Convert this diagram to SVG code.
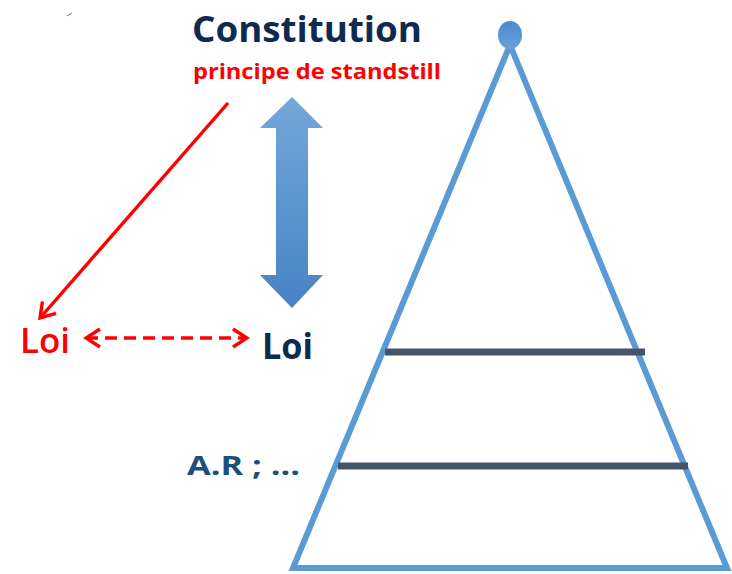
<svg xmlns="http://www.w3.org/2000/svg" width="732" height="574" viewBox="0 0 732 574">
<defs>
<linearGradient id="ga" x1="0" y1="0" x2="0" y2="1"><stop offset="0" stop-color="#74a7db"/><stop offset="1" stop-color="#4683c4"/></linearGradient>
<linearGradient id="gc" x1="0" y1="0" x2="0" y2="1"><stop offset="0" stop-color="#4b8ad0"/><stop offset="1" stop-color="#6aa0d8"/></linearGradient>
<marker id="rh" viewBox="0 0 20 22" refX="17" refY="11" markerWidth="20" markerHeight="22" markerUnits="userSpaceOnUse" orient="auto-start-reverse"><path d="M3,2 L17,11 L3,20" fill="none" stroke="#ff0000" stroke-width="3.4"/></marker>
</defs>
<style>
.t{font-family:"Open Sans","Liberation Sans",sans-serif;font-weight:bold}
.bar{stroke:#44546a;stroke-width:7;fill:none}
</style>
<rect width="732" height="574" fill="#fff"/>
<line x1="67" y1="16" x2="72" y2="13" stroke="#5a7fa8" stroke-width="1"/>
<g id="pyramid">
<polygon points="510,45 293,568 727,568" fill="none" stroke="#5b9bd5" stroke-width="6" stroke-linejoin="miter"/>
<ellipse cx="510" cy="35" rx="12" ry="14" fill="url(#gc)"/>
<line class="bar" x1="385" y1="352" x2="645" y2="352"/>
<line class="bar" x1="338" y1="466" x2="688" y2="466"/>
</g>
<g id="constitution">
<text class="t" x="192" y="42" font-size="36" fill="#0f2a4e" textLength="230" lengthAdjust="spacingAndGlyphs">Constitution</text>
<text class="t" x="193" y="79" font-size="22" fill="#ff0000" textLength="248" lengthAdjust="spacingAndGlyphs">principe de standstill</text>
</g>
<g id="loi-red"><text x="20" y="353" font-family="Open Sans, Liberation Sans, sans-serif" font-weight="600" font-size="35" fill="#ff0000" textLength="50" lengthAdjust="spacingAndGlyphs">Loi</text></g>
<g id="loi"><text class="t" x="262" y="359" font-size="36" fill="#0f2a4e" textLength="51" lengthAdjust="spacingAndGlyphs">Loi</text></g>
<g id="ar"><text class="t" x="187" y="475" font-size="27" fill="#1f4e79" textLength="113" lengthAdjust="spacingAndGlyphs">A.R ; ...</text></g>
<g id="connectors">
<path d="M292,97 L323,128 L308,128 L308,275 L323,275 L292,308 L260,275 L276,275 L276,128 L260,128 Z" fill="url(#ga)"/>
<line x1="228" y1="103" x2="40" y2="318" stroke="#ff0000" stroke-width="3.4" marker-end="url(#rh)"/>
<line x1="86" y1="338" x2="247" y2="338" stroke="#ff0000" stroke-width="3.4" stroke-dasharray="12,7" marker-start="url(#rh)" marker-end="url(#rh)"/>
</g>
</svg>
